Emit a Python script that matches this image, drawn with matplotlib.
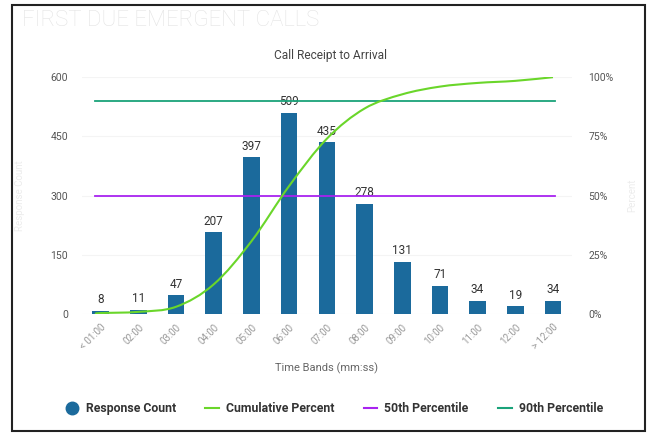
"""
First due emergent calls: response count per time band with cumulative percent.
"""
import matplotlib
matplotlib.use("Agg")
import matplotlib.pyplot as plt
import numpy as np
from matplotlib.path import Path
from matplotlib.patches import PathPatch, Rectangle
from matplotlib.lines import Line2D

plt.rcParams['font.family'] = ['Roboto', 'DejaVu Sans']

bands = ['< 01:00', '02:00', '03:00', '04:00', '05:00', '06:00', '07:00',
         '08:00', '09:00', '10:00', '11:00', '12:00', '> 12:00']
counts = [8, 11, 47, 207, 397, 509, 435, 278, 131, 71, 34, 19, 34]
pct_50 = 50
pct_90 = 90

BAR = '#1b6a9c'
CUM = '#6ad62a'
P50 = '#a823f0'
P90 = '#1aa37a'

x = np.arange(len(bands))
cum_pct = np.cumsum(counts) / np.sum(counts) * 100

fig = plt.figure(figsize=(6.55, 4.36), dpi=100)
ax = fig.add_axes([0.125, 0.280, 0.748, 0.543])
ax2 = ax.twinx()

# bars + value labels
bw = 0.44
ax.bar(x, counts, width=bw, color=BAR, zorder=2)
for xi, c in zip(x, counts):
    ax.text(xi, c + 12, str(c), ha='center', va='bottom', fontsize=8.5, color='#333333')

ax.set_xlim(-0.5, len(bands) - 0.5)
ax.set_ylim(0, 600)
ax.set_yticks([0, 150, 300, 450, 600])
ax.set_xticks(x)
ax.set_xticklabels(bands, rotation=45, ha='right', rotation_mode='anchor',
                   fontsize=7, color='#999999')
ax.tick_params(axis='y', labelsize=7.5, labelcolor='#555555', length=0, pad=10)
ax.tick_params(axis='x', length=0, pad=6)
ax.grid(axis='y', color='#f4f4f4', lw=0.8, zorder=0)
ax.set_axisbelow(True)
ax.set_xlabel('Time Bands (mm:ss)', fontsize=8, color='#666666', labelpad=8)
ax.set_ylabel('Response Count', fontsize=7, color='#ececec', labelpad=18)

ax2.set_ylim(0, 100)
ax2.set_yticks([0, 25, 50, 75, 100])
ax2.set_yticklabels(['0%', '25%', '50%', '75%', '100%'])
ax2.tick_params(axis='y', labelsize=7.5, labelcolor='#555555', length=0, pad=12)
ax2.set_ylabel('Percent', fontsize=7, color='#ececec', labelpad=10)

for a in (ax, ax2):
    for s in a.spines.values():
        s.set_visible(False)

# percentile lines
x0, x1 = x[0] - 0.15, x[-1] + 0.05
ax2.plot([x0, x1], [pct_90, pct_90], color=P90, lw=1.3, zorder=3)
ax2.plot([x0, x1], [pct_50, pct_50], color=P50, lw=1.3, zorder=3)

# smooth cumulative curve through the points (cardinal spline as bezier path)
px = np.concatenate([[x0], x])
py = np.concatenate([[0], cum_pct])
verts = [(px[0], py[0])]
codes = [Path.MOVETO]
for i in range(len(px) - 1):
    p0 = np.array([px[max(i - 1, 0)], py[max(i - 1, 0)]])
    p1 = np.array([px[i], py[i]])
    p2 = np.array([px[i + 1], py[i + 1]])
    p3 = np.array([px[min(i + 2, len(px) - 1)], py[min(i + 2, len(px) - 1)]])
    c1 = p1 + (p2 - p0) / 6
    c2 = p2 - (p3 - p1) / 6
    verts += [tuple(c1), tuple(c2), tuple(p2)]
    codes += [Path.CURVE4] * 3
ax2.add_patch(PathPatch(Path(verts, codes), fill=False, edgecolor=CUM, lw=1.5, zorder=4))

# titles
fig.text(0.033, 0.953, 'FIRST DUE EMERGENT CALLS', fontsize=16, color='#e4e4e4',
         ha='left', va='center', fontweight='light')
fig.text(0.505, 0.872, 'Call Receipt to Arrival', fontsize=8.6, color='#444444',
         ha='center', va='center')

# legend
handles = [
    Line2D([], [], marker='o', ls='none', color=BAR, markersize=9),
    Line2D([], [], color=CUM, lw=1.5),
    Line2D([], [], color=P50, lw=1.5),
    Line2D([], [], color=P90, lw=1.5),
]
labels = ['Response Count', 'Cumulative Percent', '50th Percentile', '90th Percentile']
leg = fig.legend(handles, labels, loc='center', bbox_to_anchor=(0.51, 0.063), ncol=4,
                 frameon=False, fontsize=8.8, handlelength=1.1, handletextpad=0.6,
                 columnspacing=2.4)
for t in leg.get_texts():
    t.set_color('#333333')
    t.set_fontweight('bold')

# outer frame
fig.patches.append(Rectangle((0.019, 0.012), 0.966, 0.977, transform=fig.transFigure,
                             fill=False, edgecolor='#222222', lw=1.5))

fig.savefig('out.png', dpi=100)
